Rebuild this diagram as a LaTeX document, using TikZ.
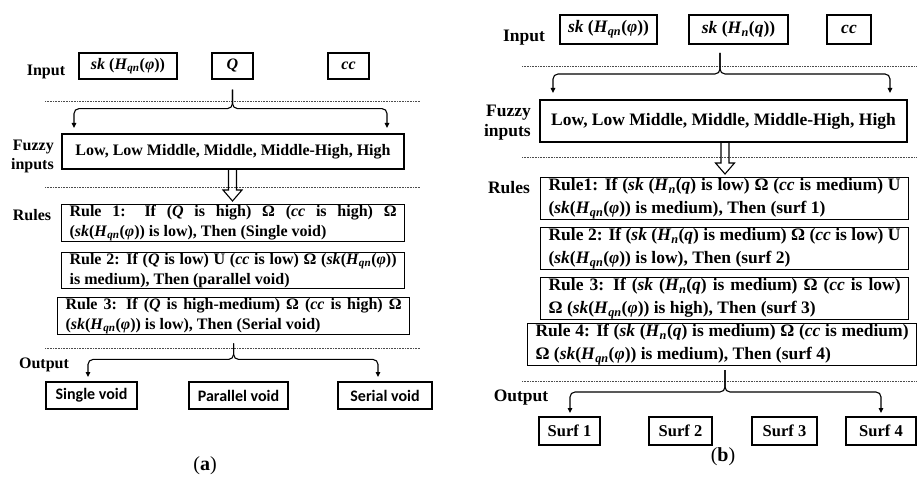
\documentclass[tikz,border=0pt]{standalone}
\usepackage{fontspec}
\setmainfont{Liberation Serif}
\newfontfamily\calibrifont{Carlito}
\usetikzlibrary{arrows.meta,calc}
\newcommand{\skH}{\textit{sk}(\textit{H}\textsubscript{\textit{qn}}(\textit{φ}))}
\newcommand{\skHn}{\textit{sk} (\textit{H}\textsubscript{\textit{n}}(\textit{q})}

\tikzset{
  inbox/.style={draw, line width=1.2pt, inner sep=0pt},
  rulebox/.style={draw, line width=1.2pt, anchor=north west, align=justify, inner xsep=8pt, inner ysep=0.5pt},
  dotline/.style={densely dotted, line width=0.6pt, black!70},
  brace/.style={line width=1.1pt, rounded corners=5pt, -{Triangle[length=5pt,width=4.5pt]}},
  lbl/.style={inner sep=0pt},
  fa/.style={font=\fontsize{16}{20}\selectfont\bfseries},
  fb/.style={font=\fontsize{17.5}{23}\selectfont\bfseries},
  hollowdown/.pic={
    \draw[line width=1.1pt] (-4,0) -- (-4,20) -- (-9.5,20) -- (0,31) -- (9.5,20) -- (4,20) -- (4,0);
  }
}

\begin{document}
\begin{tikzpicture}[x=1pt,y=-1pt]
\useasboundingbox (0,0) rectangle (917,478);

% ---------- (a) ----------
\foreach \yy in {101,187,348}{
  \draw[dotline] (45,\yy) -- (420,\yy);
}
\node[lbl,fa] (a-input) at (46,72) {Input};
\node[inbox,fa,minimum width=98pt,minimum height=26pt] (a-sk) at (128,66) {\textit{sk} (\textit{H}\textsubscript{\textit{qn}}(\textit{φ}))};
\node[inbox,fa,minimum width=41pt,minimum height=26pt] (a-Q) at (232.5,66) {\textit{Q}};
\node[inbox,fa,minimum width=41pt,minimum height=26pt] (a-cc) at (348.5,66) {\textit{cc}};

\coordinate (a-top) at ($(a-Q.south)+(0,10)$);
\coordinate (a-l) at (74,128);
\coordinate (a-r) at (387,128);
\draw[brace] (a-top) -- ++(0,19) -| (a-l);
\draw[brace] (a-top) -- ++(0,19) -| (a-r);

\node[lbl,fa,align=right,anchor=east,font=\fontsize{16}{19}\selectfont\bfseries] (a-fuzzylbl) at (54,156) {Fuzzy\\inputs};
\node[inbox,fa,minimum width=342pt,minimum height=35pt] (a-fuzzy) at (233,151.5) {Low, Low Middle, Middle, Middle-High, High};
\pic at (232.5,170) {hollowdown};

\node[lbl,fa] (a-rules) at (32,215) {Rules};
\node[rulebox,fa,text width=327pt,minimum height=37pt] (ra1) at (61,204)
  {Rule 1: If (\textit{Q} is high) Ω (\textit{cc} is high) Ω\linebreak (\skH\ is low), Then (Single void)};
\node[rulebox,fa,text width=327pt,minimum height=35pt] (ra2) at (61,252)
  {Rule 2: If (\textit{Q} is low) U (\textit{cc} is low) Ω (\skH\linebreak is medium), Then (parallel void)};
\node[rulebox,fa,text width=336pt,minimum height=37pt] (ra3) at (57,297)
  {Rule 3: If (\textit{Q} is high-medium) Ω (\textit{cc} is high) Ω\linebreak (\skH\ is low), Then (Serial void)};

\coordinate (a-bot) at ($(ra3.south)+(0,8)$);
\coordinate (a-ol) at (88,377);
\coordinate (a-or) at (378,377);
\draw[brace] (a-bot) -- ++(0,16) -| (a-ol);
\draw[brace] (a-bot) -- ++(0,16) -| (a-or);

\node[lbl,fa] (a-output) at (44,365) {Output};
\node[inbox,minimum width=91pt,minimum height=27pt,font=\calibrifont\fontsize{16}{19}\selectfont\bfseries] (a-single) at (91.5,395.5) {Single void};
\node[inbox,minimum width=99pt,minimum height=27pt,font=\calibrifont\fontsize{16}{19}\selectfont\bfseries] (a-parallel) at (238.5,395.5) {Parallel void};
\node[inbox,minimum width=94pt,minimum height=27pt,font=\calibrifont\fontsize{16}{19}\selectfont\bfseries] (a-serial) at (385,395.5) {Serial void};

\node[lbl,font=\fontsize{20}{24}\selectfont] (a-cap) at (205,466) {(\textbf{a})};

% ---------- (b) ----------
\foreach \yy in {66,157,381}{
  \draw[dotline] (522,\yy) -- (917,\yy);
}
\node[lbl,fb] (b-input) at (524,38) {Input};
\node[inbox,fb,minimum width=97pt,minimum height=29pt] (b-sk) at (608.5,29.5) {\textit{sk} (\textit{H}\textsubscript{\textit{qn}}(\textit{φ}))};
\node[inbox,fb,minimum width=99pt,minimum height=29pt] (b-skn) at (738.5,29.5) {\textit{sk} (\textit{H}\textsubscript{\textit{n}}(\textit{q}))};
\node[inbox,fb,minimum width=44pt,minimum height=29pt] (b-cc) at (849,29.5) {\textit{cc}};

\coordinate (b-top) at (720,53);
\coordinate (b-l) at (553,93);
\coordinate (b-r) at (890,93);
\draw[brace] (b-top) -- ++(0,21) -| (b-l);
\draw[brace] (b-top) -- ++(0,21) -| (b-r);

\node[lbl,align=right,anchor=east,font=\fontsize{17.5}{20}\selectfont\bfseries] (b-fuzzylbl) at (531,123) {Fuzzy\\inputs};
\node[inbox,fb,minimum width=367pt,minimum height=42pt] (b-fuzzy) at (723.5,121) {Low, Low Middle, Middle, Middle-High, High};
\pic at (725,143) {hollowdown};

\node[lbl,fb] (b-rules) at (509,188) {Rules};
\node[rulebox,fb,text width=352pt,minimum height=40pt] (rb1) at (540,177)
  {Rule1: If (\skHn\ is low) Ω (\textit{cc} is medium) U\linebreak (\skH\ is medium), Then (surf 1)};
\node[rulebox,fb,text width=352pt,minimum height=37pt] (rb2) at (540,227)
  {Rule 2: If (\skHn\ is medium) Ω (\textit{cc} is low) U\linebreak (\skH\ is low), Then (surf 2)};
\node[rulebox,fb,text width=352pt,minimum height=38pt] (rb3) at (540,277)
  {Rule 3: If (\skHn\ is medium) Ω (\textit{cc} is low)\linebreak Ω (\skH\ is high), Then (surf 3)};
\node[rulebox,fb,text width=373pt,minimum height=40pt] (rb4) at (527,323)
  {Rule 4: If (\skHn\ is medium) Ω (\textit{cc} is medium)\linebreak Ω (\skH\ is medium), Then (surf 4)};

\coordinate (b-bot) at (725,370);
\coordinate (b-ol) at (570,413);
\coordinate (b-or) at (881,413);
\draw[brace] (b-bot) -- ++(0,22) -| (b-ol);
\draw[brace] (b-bot) -- ++(0,22) -| (b-or);

\node[lbl,fb] (b-output) at (521,398) {Output};
\foreach \nm/\cx/\bw/\txt in {s1/569.5/61/Surf 1, s2/680.5/63/Surf 2, s3/784.5/65/Surf 3, s4/881/70/Surf 4}{
  \node[inbox,minimum width=\bw pt,minimum height=28pt,font=\fontsize{16.5}{19}\selectfont\bfseries] (b-\nm) at (\cx,431) {\txt};
}

\node[lbl,font=\fontsize{20}{24}\selectfont] (b-cap) at (723,457) {(\textbf{b})};
\end{tikzpicture}
\end{document}
